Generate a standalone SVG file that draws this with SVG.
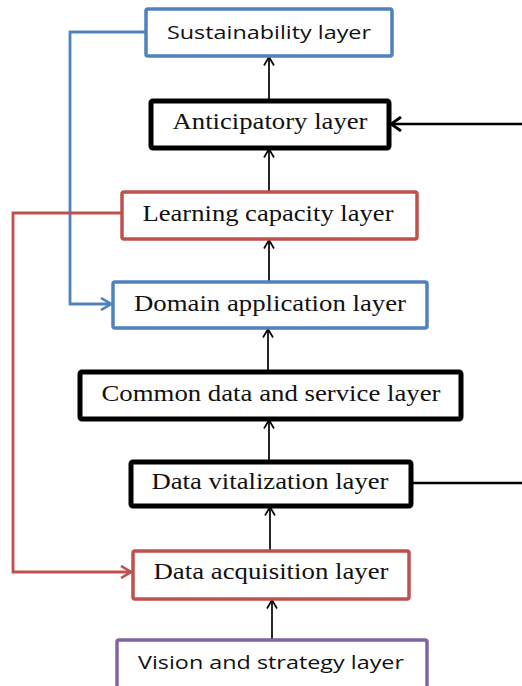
<svg xmlns="http://www.w3.org/2000/svg" width="522" height="686" viewBox="0 0 522 686">
  <style>
    .box { fill: #ffffff; }
    .blue { stroke: #4f81bd; stroke-width: 3.5; }
    .red { stroke: #c0504d; stroke-width: 3.5; }
    .purple { stroke: #8064a2; stroke-width: 3.5; }
    .black { stroke: #000000; stroke-width: 5; }
    .serif { font-family: "Liberation Serif", "Times New Roman", serif; font-size: 22.5px; fill: #111111; text-anchor: middle; }
    .sans { font-family: "Open Sans", "Liberation Sans", sans-serif; font-size: 19px; fill: #111111; text-anchor: middle; }
    .up { stroke: #000000; stroke-width: 1.7; fill: none; }
    .side { fill: none; stroke-width: 2.8; }
  </style>
  <defs>
    <marker id="headBlack" viewBox="0 0 10 12" refX="9.5" refY="6" markerWidth="10" markerHeight="12" markerUnits="userSpaceOnUse" orient="auto">
      <path d="M1,1 L9.5,6 L1,11" fill="none" stroke="#000000" stroke-width="1.7"/>
    </marker>
    <marker id="headBlackBold" viewBox="0 0 12 16" refX="11" refY="8" markerWidth="12" markerHeight="16" markerUnits="userSpaceOnUse" orient="auto">
      <path d="M1,1 L11,8 L1,15" fill="none" stroke="#000000" stroke-width="2.8"/>
    </marker>
    <marker id="headBlue" viewBox="0 0 12 14" refX="11" refY="7" markerWidth="12" markerHeight="14" markerUnits="userSpaceOnUse" orient="auto">
      <path d="M1,1 L11,7 L1,13" fill="none" stroke="#4f81bd" stroke-width="2.6"/>
    </marker>
    <marker id="headRed" viewBox="0 0 12 14" refX="11" refY="7" markerWidth="12" markerHeight="14" markerUnits="userSpaceOnUse" orient="auto">
      <path d="M1,1 L11,7 L1,13" fill="none" stroke="#c0504d" stroke-width="2.6"/>
    </marker>
  </defs>

  <!-- connectors -->
  <g id="connectors">
    <line class="up" x1="269" y1="101" x2="269" y2="57" marker-end="url(#headBlack)"/>
    <line class="up" x1="269" y1="192" x2="269" y2="149" marker-end="url(#headBlack)"/>
    <line class="up" x1="269" y1="282" x2="269" y2="240" marker-end="url(#headBlack)"/>
    <line class="up" x1="268" y1="372" x2="268" y2="329" marker-end="url(#headBlack)"/>
    <line class="up" x1="269" y1="462" x2="269" y2="420" marker-end="url(#headBlack)"/>
    <line class="up" x1="270" y1="551" x2="270" y2="507" marker-end="url(#headBlack)"/>
    <line class="up" x1="272" y1="640" x2="272" y2="600" marker-end="url(#headBlack)"/>
    <!-- feedback loops -->
    <polyline class="side" stroke="#4f81bd" points="146,32 70,32 70,304 111,304" marker-end="url(#headBlue)"/>
    <polyline class="side" stroke="#c0504d" points="122,213 13,213 13,572 131,572" marker-end="url(#headRed)"/>
    <!-- external links on the right -->
    <line stroke="#000000" stroke-width="2.6" x1="522" y1="124" x2="391" y2="124" marker-end="url(#headBlackBold)"/>
    <line stroke="#000000" stroke-width="2.6" x1="411" y1="483" x2="522" y2="483"/>
  </g>

  <g id="sustainability">
    <rect class="box blue" x="146" y="9" width="246" height="47" rx="2"/>
    <text class="sans" x="269" y="39" textLength="204" lengthAdjust="spacingAndGlyphs">Sustainability layer</text>
  </g>
  <g id="anticipatory">
    <rect class="box black" x="151" y="101" width="238" height="47" rx="2"/>
    <text class="serif" x="270" y="129" textLength="195" lengthAdjust="spacingAndGlyphs">Anticipatory layer</text>
  </g>
  <g id="learning-capacity">
    <rect class="box red" x="122" y="192" width="295" height="47" rx="2"/>
    <text class="serif" x="268" y="221" textLength="251" lengthAdjust="spacingAndGlyphs">Learning capacity layer</text>
  </g>
  <g id="domain-application">
    <rect class="box blue" x="113" y="282" width="314" height="46" rx="2"/>
    <text class="serif" x="270" y="311" textLength="272" lengthAdjust="spacingAndGlyphs">Domain application layer</text>
  </g>
  <g id="common-data-service">
    <rect class="box black" x="80" y="372" width="381" height="47" rx="2"/>
    <text class="serif" x="271" y="401" textLength="339" lengthAdjust="spacingAndGlyphs">Common data and service layer</text>
  </g>
  <g id="data-vitalization">
    <rect class="box black" x="131" y="462" width="280" height="44" rx="2"/>
    <text class="serif" x="270" y="489" textLength="237" lengthAdjust="spacingAndGlyphs">Data vitalization layer</text>
  </g>
  <g id="data-acquisition">
    <rect class="box red" x="133" y="551" width="276" height="48" rx="2"/>
    <text class="serif" x="271" y="579" textLength="235" lengthAdjust="spacingAndGlyphs">Data acquisition layer</text>
  </g>
  <g id="vision-strategy">
    <rect class="box purple" x="117" y="640" width="310" height="50" rx="2"/>
    <text class="sans" x="271" y="669" textLength="266" lengthAdjust="spacingAndGlyphs">Vision and strategy layer</text>
  </g>
</svg>
